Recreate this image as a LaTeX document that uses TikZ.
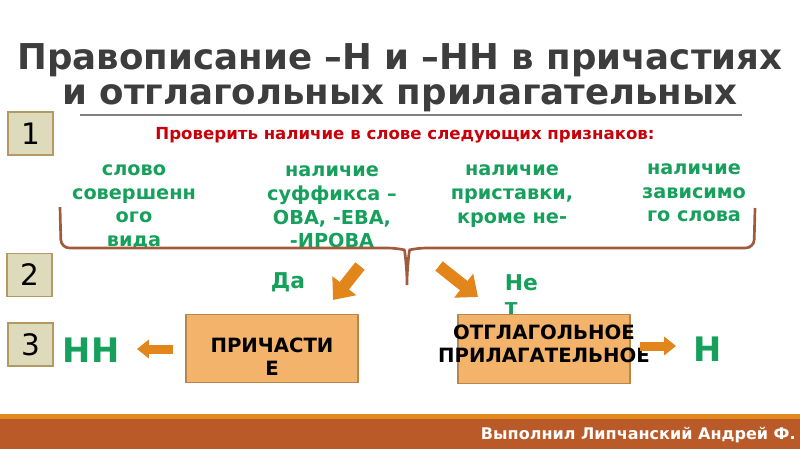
\documentclass[tikz,border=0pt]{standalone}
\usepackage{fontspec}
\setmainfont{DejaVu Sans}
\usetikzlibrary{arrows.meta,positioning}
\definecolor{titlegrey}{HTML}{3D3D3D}
\definecolor{signred}{HTML}{C8000A}
\definecolor{signgreen}{HTML}{16A05C}
\definecolor{bracebrown}{HTML}{A05A3C}
\definecolor{arroworange}{HTML}{E2861C}
\definecolor{boxfill}{HTML}{F4B36B}
\definecolor{boxline}{HTML}{B8864C}
\definecolor{stepfill}{HTML}{DEDBBD}
\definecolor{stepline}{HTML}{B49A62}
\definecolor{bandorange}{HTML}{E4891E}
\definecolor{bandbrown}{HTML}{BB5A29}
\tikzset{
    slide/.style    = {x=0.025cm, y=-0.025cm},
    numbox/.style   = {draw=stepline, line width=1.1pt, fill=stepfill,
                       minimum width=1.12cm, minimum height=1.07cm,
                       inner sep=0pt, font=\fontsize{21}{21}\selectfont},
    sign/.style     = {text=signgreen, align=center,
                       font=\bfseries\fontsize{13.7}{16.8}\selectfont},
    answer/.style   = {text=signgreen, font=\bfseries\fontsize{15.5}{16.5}\selectfont},
    result/.style   = {text=signgreen, font=\bfseries\fontsize{24}{24}\selectfont},
    kindbox/.style  = {draw=boxline, line width=0.8pt, fill=boxfill,
                       minimum width=4.3cm, minimum height=1.72cm},
    kindtext/.style = {align=center, font=\bfseries\fontsize{14}{16.5}\selectfont},
    brace/.style    = {draw=bracebrown, line width=1.9pt, rounded corners=6pt},
    bigarrow/.style = {draw=arroworange, line width=8.5pt,
                       -{Triangle[length=13pt, width=21pt]}},
    smallarrow/.style = {draw=arroworange, line width=6.4pt,
                       -{Triangle[length=8.5pt, width=13pt]}}
}
\begin{document}
\begin{tikzpicture}[slide]
\useasboundingbox (0,0) rectangle (800,449);
\clip (0,0) rectangle (800,449);

% ================= Title =================
\node[text=titlegrey, align=center, font=\bfseries\fontsize{25.3}{25}\selectfont]
    (title) at (400,78) {Правописание –Н и –НН в причастиях\\и отглагольных прилагательных};
\draw[gray, line width=0.8pt] (80,115) -- (742,115);

% ================= Step numbers =================
\node[numbox] (step1) at (30.5,133.5) {1};
\node[numbox] (step2) at (29.5,275) {2};
\node[numbox] (step3) at (30.5,344.5) {3};

% ================= Signs to check =================
\node[text=signred, font=\bfseries\fontsize{11.8}{13}\selectfont]
    (check) at (405,135) {Проверить наличие в слове следующих признаков:};
\node[sign] (perf)   at (134,207) {слово\\совершенн\\ого\\вида};
\node[sign] (suffix) at (332,207) {наличие\\суффикса –\\ОВА, -ЕВА,\\-ИРОВА};
\node[sign] (prefix) at (512,196) {наличие\\приставки,\\кроме не-};
\node[sign] (depend) at (694,193) {наличие\\зависимо\\го слова};

% brace under the four signs
\draw[brace] (60,207) -- (61,248) -- (396,248)
    .. controls (405,250) and (407,272) .. (407,290)
    .. controls (407,272) and (409,250) .. (418,248)
    -- (754,248) -- (755,208);

% ================= Answers =================
\coordinate (yesfrom) at (360,266);
\coordinate (yesto)   at (333,300);
\coordinate (nofrom)  at (439,266);
\coordinate (noto)    at (478,297);
\draw[bigarrow] (yesfrom) -- (yesto);
\draw[bigarrow] (nofrom) -- (noto);
\node[answer] (yes) at (288,282) {Да};
\node[answer, align=left, anchor=north west] (no) at (500,270) {Не\\т};

% ================= Results =================
\node[kindbox] (partbox) at (272,348.5) {};
\node[kindtext] (part) at (272,357) {ПРИЧАСТИ\\Е};
\node[kindbox] (adjbox) at (544,349) {};
\node[kindtext] (adj) at (544,344) {ОТГЛАГОЛЬНОЕ\\ПРИЛАГАТЕЛЬНОЕ};

\node[result] (nn) at (91,350) {НН};
\node[result] (n)  at (708,349) {Н};

\coordinate (nnfrom) at (173,349);
\coordinate (nnto)   at (137,349);
\coordinate (nfrom)  at (640,346);
\coordinate (nto)    at (676,346);
\draw[smallarrow] (nnfrom) -- (nnto);
\draw[smallarrow] (nfrom) -- (nto);

% ================= Footer =================
\fill[bandorange] (0,414) rectangle (800,419);
\fill[bandbrown]  (0,419) rectangle (800,449);
\node[text=white, anchor=west, font=\bfseries\fontsize{11.4}{12}\selectfont]
    (author) at (476,435) {Выполнил Липчанский Андрей Ф.};

\end{tikzpicture}
\end{document}
